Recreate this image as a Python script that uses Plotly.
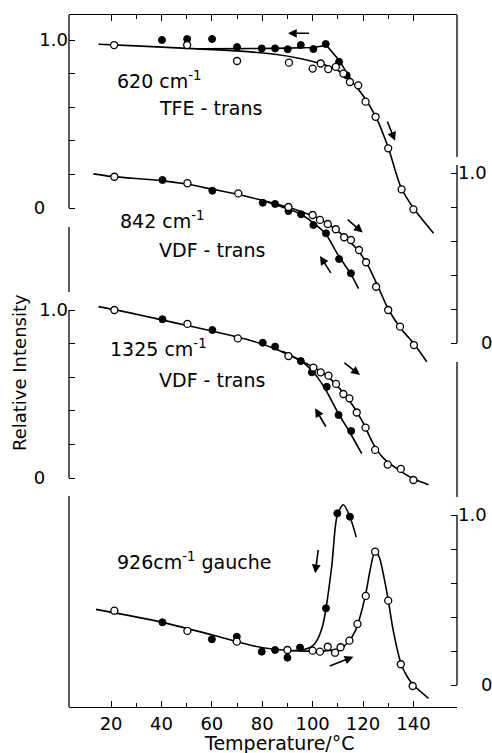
import plotly.graph_objects as go

# ---------------- data ----------------
# Panel 1: 620 cm-1, TFE-trans (left axis)
p1_heat_T = [21.2, 50.2, 70.0, 90.6, 100.0, 103.2, 106.2, 109.2, 112.2, 114.8, 118.1, 121.0, 125.0, 130.0, 135.3, 140.0]
p1_heat_v = [0.97, 0.97, 0.875, 0.865, 0.83, 0.86, 0.827, 0.84, 0.80, 0.75, 0.73, 0.633, 0.543, 0.355, 0.111, -0.008]
p1_cool_T = [40.2, 50.2, 60.1, 70.0, 79.8, 85.1, 90.1, 95.3, 100.3, 105.2, 110.5, 113.5]
p1_cool_v = [1.0, 1.006, 1.006, 0.958, 0.95, 0.95, 0.945, 0.97, 0.946, 0.976, 0.87, 0.79]
p1_heat_curve_T = [15, 30, 50, 70, 85, 95, 103, 108, 112, 116, 120, 125, 130, 135, 140, 148]
p1_heat_curve_v = [0.975, 0.965, 0.95, 0.935, 0.915, 0.89, 0.86, 0.835, 0.80, 0.745, 0.67, 0.545, 0.36, 0.125, 0.0, -0.15]
p1_cool_curve_T = [55, 70, 85, 100, 105.5, 110.5, 116]
p1_cool_curve_v = [0.947, 0.948, 0.95, 0.955, 0.968, 0.88, 0.745]

# Panel 2: 842 cm-1, VDF-trans (right axis)
p2_heat_T = [21.3, 50.3, 70.5, 90.4, 100.0, 102.9, 106.0, 109.2, 112.5, 115.2, 118.4, 121.2, 125.2, 130.0, 134.7, 140.2]
p2_heat_v = [0.978, 0.94, 0.88, 0.80, 0.753, 0.724, 0.70, 0.669, 0.622, 0.606, 0.547, 0.475, 0.331, 0.194, 0.096, -0.012]
p2_cool_T = [40.4, 60.2, 80.2, 85.1, 90.4, 95.4, 100.3, 105.3, 110.5, 115.2]
p2_cool_v = [0.959, 0.896, 0.825, 0.818, 0.776, 0.757, 0.694, 0.645, 0.494, 0.41]
p2_heat_curve_T = [13, 20, 40, 50, 60, 70, 85, 95, 102, 108, 113, 118, 122, 126, 130, 135, 140, 145.3]
p2_heat_curve_v = [0.995, 0.98, 0.955, 0.935, 0.905, 0.875, 0.82, 0.775, 0.735, 0.68, 0.62, 0.545, 0.455, 0.33, 0.2, 0.085, 0.0, -0.11]
p2_cool_curve_T = [82, 90, 95, 100, 105, 110, 115, 118.2]
p2_cool_curve_v = [0.83, 0.79, 0.76, 0.71, 0.645, 0.52, 0.41, 0.32]

# Panel 3: 1325 cm-1, VDF-trans (left axis)
p3_heat_T = [21.3, 50.3, 70.3, 90.4, 100.3, 103.2, 106.3, 109.3, 112.2, 114.6, 117.5, 121.0, 124.8, 129.8, 135.0, 140.0]
p3_heat_v = [1.0, 0.917, 0.831, 0.726, 0.657, 0.629, 0.609, 0.56, 0.50, 0.474, 0.39, 0.30, 0.167, 0.08, 0.054, -0.012]
p3_cool_T = [40.4, 60.2, 80.2, 85.1, 95.3, 99.7, 105.6, 110.3, 115.3]
p3_cool_v = [0.945, 0.881, 0.805, 0.782, 0.696, 0.629, 0.543, 0.375, 0.28]
p3_heat_curve_T = [15, 30, 45, 60, 75, 85, 95, 102, 107, 112, 116, 120, 124, 128, 133, 140, 146]
p3_heat_curve_v = [1.02, 0.975, 0.925, 0.875, 0.82, 0.77, 0.70, 0.645, 0.59, 0.51, 0.43, 0.33, 0.205, 0.12, 0.06, -0.005, -0.04]
p3_cool_curve_T = [88, 95, 100, 105, 110, 115, 119.5]
p3_cool_curve_v = [0.755, 0.70, 0.635, 0.53, 0.39, 0.265, 0.145]

# Panel 4: 926 cm-1, gauche (right axis)
p4_heat_T = [21.3, 50.3, 69.9, 90.0, 100.0, 102.9, 106.0, 108.9, 111.1, 114.6, 117.8, 121.1, 124.8, 130.0, 135.0, 139.7]
p4_heat_v = [0.437, 0.318, 0.255, 0.206, 0.202, 0.196, 0.225, 0.19, 0.222, 0.261, 0.359, 0.524, 0.784, 0.496, 0.122, -0.006]
p4_cool_T = [40.4, 60.0, 69.9, 79.8, 85.1, 90.0, 95.0, 105.3, 109.8, 114.8]
p4_cool_v = [0.369, 0.269, 0.284, 0.196, 0.206, 0.161, 0.22, 0.451, 1.01, 0.99]
p4_heat_curve_T = [14, 40, 60, 75, 85, 95, 103, 108, 111, 114, 117, 119, 121, 123, 124.8, 126.5, 128.5, 130, 132, 135, 137.5, 140, 146]
p4_heat_curve_v = [0.445, 0.37, 0.295, 0.235, 0.21, 0.2, 0.2, 0.205, 0.215, 0.25, 0.32, 0.41, 0.53, 0.69, 0.79, 0.75, 0.62, 0.50, 0.32, 0.13, 0.05, 0.0, -0.078]
p4_cool_curve_T = [90, 97, 100, 102, 104, 105.3, 107.6, 109.8, 112.2, 114.8, 117.3]
p4_cool_curve_v = [0.2, 0.21, 0.23, 0.27, 0.35, 0.45, 0.70, 1.0, 1.06, 0.99, 0.87]

# arrows: (tail_T, tail_v, head_T, head_v) per panel
p1_arrows = [(99.2, 1.04, 90.2, 1.04), (129.4, 0.524, 132.7, 0.40)]
p2_arrows = [(113.3, 0.733, 119.9, 0.65), (107.6, 0.404, 102.9, 0.512)]
p3_arrows = [(112.0, 0.692, 118.8, 0.613), (105.6, 0.296, 101.0, 0.415)]
p4_arrows = [(102.3, 0.804, 101.0, 0.657), (106.2, 0.108, 116.2, 0.166)]

x_tickvals = [20, 40, 60, 80, 100, 120, 140]
x_minorvals = [30, 50, 70, 90, 110, 130]
y_tickvals = [0, 0.2, 0.4, 0.6, 0.8, 1.0]

# ---------------- layout geometry ----------------
FW, FH = 492, 753
PL, PR, PT, PB = 69, 457, 15, 707
FONT = "DejaVu Sans"
NB = "\u00a0"


def fx(px):
    return (px - PL) / (PR - PL)


def fy(py):
    return (PB - py) / (PB - PT)


def yr(p0, unit):
    return [-(PB - p0) / unit, (p0 - PT) / unit]


panels = [
    dict(ax="y", name="yaxis", side="left", rng=yr(208, 168),
         heat=(p1_heat_T, p1_heat_v), cool=(p1_cool_T, p1_cool_v),
         hc=(p1_heat_curve_T, p1_heat_curve_v), cc=(p1_cool_curve_T, p1_cool_curve_v),
         ccshape="linear", arrows=p1_arrows),
    dict(ax="y2", name="yaxis2", side="right", rng=yr(343, 170),
         heat=(p2_heat_T, p2_heat_v), cool=(p2_cool_T, p2_cool_v),
         hc=(p2_heat_curve_T, p2_heat_curve_v), cc=(p2_cool_curve_T, p2_cool_curve_v),
         ccshape="spline", arrows=p2_arrows),
    dict(ax="y3", name="yaxis3", side="left", rng=yr(478, 168),
         heat=(p3_heat_T, p3_heat_v), cool=(p3_cool_T, p3_cool_v),
         hc=(p3_heat_curve_T, p3_heat_curve_v), cc=(p3_cool_curve_T, p3_cool_curve_v),
         ccshape="spline", arrows=p3_arrows),
    dict(ax="y4", name="yaxis4", side="right", rng=yr(685, 170),
         heat=(p4_heat_T, p4_heat_v), cool=(p4_cool_T, p4_cool_v),
         hc=(p4_heat_curve_T, p4_heat_curve_v), cc=(p4_cool_curve_T, p4_cool_curve_v),
         ccshape="spline", arrows=p4_arrows),
]

fig = go.Figure()
line_style = dict(color="black", width=1.6)

for p in panels:
    fig.add_trace(go.Scatter(x=p["hc"][0], y=p["hc"][1], yaxis=p["ax"], mode="lines",
                             line=dict(shape="spline", smoothing=0.8, **line_style),
                             hoverinfo="skip"))
    fig.add_trace(go.Scatter(x=p["cc"][0], y=p["cc"][1], yaxis=p["ax"], mode="lines",
                             line=dict(shape=p["ccshape"], smoothing=0.8, **line_style),
                             hoverinfo="skip"))
    fig.add_trace(go.Scatter(x=p["cool"][0], y=p["cool"][1], yaxis=p["ax"], mode="markers",
                             marker=dict(size=7, color="black", line=dict(color="black", width=1))))
    fig.add_trace(go.Scatter(x=p["heat"][0], y=p["heat"][1], yaxis=p["ax"], mode="markers",
                             marker=dict(size=7, color="white", line=dict(color="black", width=1.3))))

annotations = []
for p in panels:
    for (tT, tv, hT, hv) in p["arrows"]:
        annotations.append(dict(x=hT, y=hv, ax=tT, ay=tv, xref="x", yref=p["ax"],
                                axref="x", ayref=p["ax"], text="", showarrow=True,
                                arrowhead=2, arrowsize=1.1, arrowwidth=1.6,
                                arrowcolor="black", standoff=0, startstandoff=0))

labels = [
    ("620 cm<sup>-1</sup>", 115, 80),
    ("TFE - trans", 157, 108),
    ("842 cm<sup>-1</sup>", 118, 220),
    ("VDF - trans", 157, 250),
    ("1325 cm<sup>-1</sup>", 108, 348),
    ("VDF - trans", 157, 380),
    ("926cm<sup>-1</sup> gauche", 115, 561),
]
for txt, px, py in labels:
    annotations.append(dict(text=txt, x=fx(px), y=fy(py), xref="paper", yref="paper",
                            xanchor="left", yanchor="middle", showarrow=False,
                            font=dict(family=FONT, size=19, color="black")))

annotations.append(dict(text="Temperature/°C", x=fx(279), y=fy(743), xref="paper", yref="paper",
                        xanchor="center", yanchor="middle", showarrow=False,
                        font=dict(family=FONT, size=19, color="black")))
annotations.append(dict(text="Relative Intensity", x=fx(20), y=fy(373), xref="paper", yref="paper",
                        xanchor="center", yanchor="middle", showarrow=False, textangle=-90,
                        font=dict(family=FONT, size=18, color="black")))

# spine segments (pixel positions of the broken vertical axes)
left_segments = [(15, 208), (227, 292), (310, 478), (496, 707)]
right_segments = [(15, 157), (165, 343), (362, 497), (515, 685)]
shapes = []
for a, b in left_segments:
    shapes.append(dict(type="line", xref="paper", yref="paper", x0=0, x1=0, y0=fy(a), y1=fy(b),
                       line=dict(color="black", width=1.3)))
for a, b in right_segments:
    shapes.append(dict(type="line", xref="paper", yref="paper", x0=1, x1=1, y0=fy(a), y1=fy(b),
                       line=dict(color="black", width=1.3)))

layout = dict(
    width=FW, height=FH,
    margin=dict(l=PL, r=FW - PR, t=PT, b=FH - PB, pad=0, autoexpand=False),
    paper_bgcolor="white", plot_bgcolor="white",
    showlegend=False,
    font=dict(family=FONT, size=18, color="black"),
    xaxis=dict(range=[3.3, 157.3], showgrid=False, zeroline=False, automargin=False,
               showline=True, linecolor="black", linewidth=1.3, mirror="ticks",
               ticks="inside", ticklen=6, tickwidth=1.2, tickcolor="black",
               tickvals=x_tickvals, ticktext=[str(v) for v in x_tickvals],
               tickfont=dict(family=FONT, size=18, color="black"),
               minor=dict(tickvals=x_minorvals, ticks="inside", ticklen=4,
                          tickwidth=1.2, tickcolor="black", showgrid=False)),
    annotations=annotations,
    shapes=shapes,
)

for i, p in enumerate(panels):
    if p["side"] == "left":
        ttext = ["0" + NB * 4, "", "", "", "", "1.0"]
    else:
        ttext = [NB * 4 + "0", "", "", "", "", "1.0"]
    ax = dict(range=p["rng"], side=p["side"], anchor="x", showgrid=False, zeroline=False,
              automargin=False,
              showline=False, ticks="inside", ticklen=6, tickwidth=1.2, tickcolor="black",
              tickvals=y_tickvals, ticktext=ttext,
              tickfont=dict(family=FONT, size=18, color="black"))
    if i > 0:
        ax["overlaying"] = "y"
    layout[p["name"]] = ax

fig.update_layout(**layout)
fig.write_html("out.html")
